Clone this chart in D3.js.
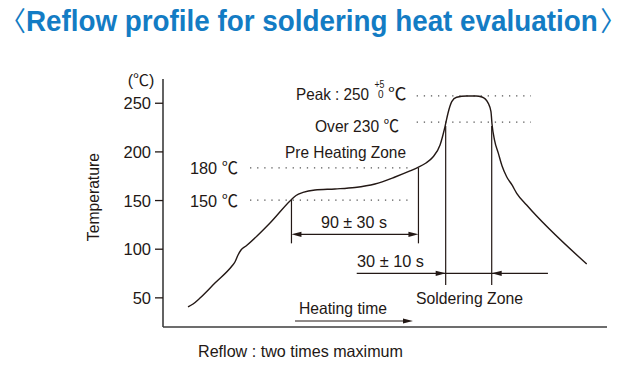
<!DOCTYPE html>
<html><head><meta charset="utf-8">
<script src="https://cdn.jsdelivr.net/npm/d3@7/dist/d3.min.js"></script>
<style>body{margin:0;background:#fff}svg{display:block}</style>
</head><body><svg id="c" width="627" height="366"></svg>
<script>
// ---- data ----
const titleText = "Reflow profile for soldering heat evaluation";
const titleOpen = "〈", titleClose = "〉";
const yTicks = [50, 100, 150, 200, 250];
const yUnit = "(℃)";
const yLabel = "Temperature";
// heating time (s, schematic) and temperature (℃) of the profile curve
const timeS = [16.9, 20.3, 25.0, 35.1, 46.6, 48.6, 50.7, 52.7, 56.1, 72.3, 86.5, 89.9, 94.6, 102.7, 116.2, 129.7, 143.2, 156.8, 166.9, 172.3, 177.7, 182.4, 187.2, 190.5, 192.6, 195.1, 198.4, 205.2, 211.5, 215.5, 219.8, 221.6, 222.3, 224.0, 226.6, 229.1, 232.2, 235.8, 239.0, 245.7, 286.3];
const tempC = [40.1, 43.2, 49.3, 64.7, 82.2, 86.3, 93.5, 98.7, 102.8, 126.4, 150.1, 154.7, 157.8, 160.3, 161.4, 162.9, 166.5, 173.7, 179.9, 183.5, 188.1, 194.2, 206.6, 225.1, 239.5, 251.1, 255.6, 256.9, 256.9, 255.9, 249.4, 240.8, 228.2, 211.7, 198.0, 185.0, 174.0, 165.5, 156.9, 144.9, 84.3];
// reference levels (as drawn)
const preLevels = [150, 183];
const preLevelLabels = ["150 ℃", "180 ℃"];
const highLevels = [230, 257];
const preheatTimes = [86.8, 172.6];
const solderTimes = [191.0, 222.1];
const labels = {
  pre: "Pre Heating Zone", over: "Over 230 ℃", peak: "Peak : 250", peakUp: "+5", peakDown: "0", deg: "℃",
  preSpan: "90 ± 30 s", solderSpan: "30 ± 10 s", solderZone: "Soldering Zone",
  heating: "Heating time", note: "Reflow : two times maximum"
};

// ---- drawing ----
const svg = d3.select("#c");
const ink = "#231815", blue = "#137cc4", FONT = "'Liberation Sans', Arial, 'Noto Sans CJK JP', sans-serif";
const CJK = "'Noto Sans CJK JP', sans-serif";
const x = d3.scaleLinear().domain([0, 300]).range([163, 607]);
const y = d3.scaleLinear().domain([0, 250]).range([346, 102.75]);

function txt(s, px, py, opts = {}) {
  const t = svg.append("text").attr("x", px).attr("y", py).text(s)
    .attr("font-family", opts.family || FONT).attr("font-size", opts.size || 16.5)
    .attr("fill", opts.fill || ink).attr("text-anchor", opts.anchor || "start");
  if (opts.weight) t.attr("font-weight", opts.weight);
  if (opts.len) t.attr("textLength", opts.len).attr("lengthAdjust", "spacingAndGlyphs");
  return t;
}
function arrowHead(xt, yt, dir) {
  const L = 10, W = 2.6;
  svg.append("path").attr("d", `M${xt},${yt}L${xt - dir * L},${yt - W}L${xt - dir * L},${yt + W}Z`).attr("fill", ink);
}
function line(x1, y1, x2, y2, w = 1.2, col = ink) {
  return svg.append("line").attr("x1", x1).attr("y1", y1).attr("x2", x2).attr("y2", y2)
    .attr("stroke", col).attr("stroke-width", w);
}

// title: one text element, brackets + bold title, fitted to the width
{
  const t = svg.append("text").attr("x", 0).attr("y", 0).attr("fill", blue);
  const o = t.append("tspan").text(titleOpen).attr("font-family", CJK).attr("font-size", 27);
  const m = t.append("tspan").text(titleText).attr("font-family", FONT).attr("font-size", 29).attr("font-weight", "bold");
  const c = t.append("tspan").text(titleClose).attr("font-family", CJK).attr("font-size", 27);
  const node = t.node();
  const B = node.getSubStringLength(0, 1);
  const T = node.getSubStringLength(1, titleText.length);
  const B2 = node.getSubStringLength(titleText.length + 1, 1);
  const s = 572 / T;
  const d2 = Math.max(0, 626.5 / s - B - T - B2);
  c.attr("dx", d2);
  t.attr("transform", `translate(0,31) scale(${s},1)`);
}

// axes
line(x(0), y(19.5), x(300), y(19.5), 1.6, "#3c3c3c");
line(x(0), y(19.5), x(0), y(274.4), 1.6, "#3c3c3c");
const ax = svg.append("g").attr("transform", `translate(${x(0)},0)`)
  .call(d3.axisLeft(y).tickValues(yTicks).tickSize(8).tickPadding(4));
ax.select(".domain").remove();
ax.selectAll(".tick line").attr("stroke", ink).attr("stroke-width", 1.3);
ax.selectAll(".tick text").attr("font-family", FONT).attr("font-size", 16.5).attr("fill", ink).attr("dy", "0.36em");
txt(yUnit, 141, 86, { size: 16, anchor: "middle" });
svg.append("text").text(yLabel).attr("transform", `translate(99,${y(153)}) rotate(-90)`)
  .attr("font-family", FONT).attr("font-size", 16.5).attr("fill", ink).attr("text-anchor", "middle")
  .attr("textLength", 88).attr("lengthAdjust", "spacingAndGlyphs");

// dotted reference lines
const dot = { stroke: "#555", w: 1.3, dash: "1.3 5.8" };
preLevels.forEach((v, i) => {
  line(x(58.8), y(v), x(168.2), y(v), dot.w, dot.stroke).attr("stroke-dasharray", dot.dash);
  txt(preLevelLabels[i], 190, y(v) + 6.5, { len: 48 });
});
highLevels.forEach(v => {
  line(x(171.4), y(v), x(248.6), y(v), dot.w, dot.stroke).attr("stroke-dasharray", dot.dash);
});

// profile curve
const pts = timeS.map((t, i) => [t, tempC[i]]);
svg.append("path").datum(pts)
  .attr("d", d3.line().x(d => x(d[0])).y(d => y(d[1])).curve(d3.curveMonotoneX))
  .attr("fill", "none").attr("stroke", ink).attr("stroke-width", 1.4);

// pre-heating span
line(x(preheatTimes[0]), y(preLevels[0]), x(preheatTimes[0]), y(105.5));
line(x(preheatTimes[1]), y(preLevels[1]), x(preheatTimes[1]), y(105.5));
line(x(preheatTimes[0]) + 8, y(114.8), x(preheatTimes[1]) - 8, y(114.8));
arrowHead(x(preheatTimes[0]), y(114.8), -1);
arrowHead(x(preheatTimes[1]), y(114.8), 1);
txt(labels.preSpan, (x(preheatTimes[0]) + x(preheatTimes[1])) / 2 - 1, 227.5, { anchor: "middle", len: 66 });

// soldering span
solderTimes.forEach(t => line(x(t), y(226), x(t), y(62.7)));
line(x(130.9), y(74.7), x(260.1), y(74.7));
arrowHead(x(solderTimes[0]), y(74.7), 1);
arrowHead(x(solderTimes[1]), y(74.7), -1);
txt(labels.solderSpan, 357, 266.7, { len: 67 });
txt(labels.solderZone, 416, 303.5, { len: 107 });

// heating time arrow
line(x(89.2), y(25.7), x(168.9) - 8, y(25.7));
arrowHead(x(168.9), y(25.7), 1);
txt(labels.heating, 299, 314, { len: 88 });

// zone labels
txt(labels.pre, 285, 158.3, { len: 121 });
txt(labels.over, 315, 131.7, { len: 84 });
txt(labels.peak, 296, 100, { len: 73 });
txt(labels.peakUp, 374.5, 88, { size: 10, len: 10 });
txt(labels.peakDown, 378, 98, { size: 10 });
txt(labels.deg, 388, 100, { len: 18.5 });

// footnote
txt(labels.note, 198, 357, { len: 205 });
</script></body></html>
